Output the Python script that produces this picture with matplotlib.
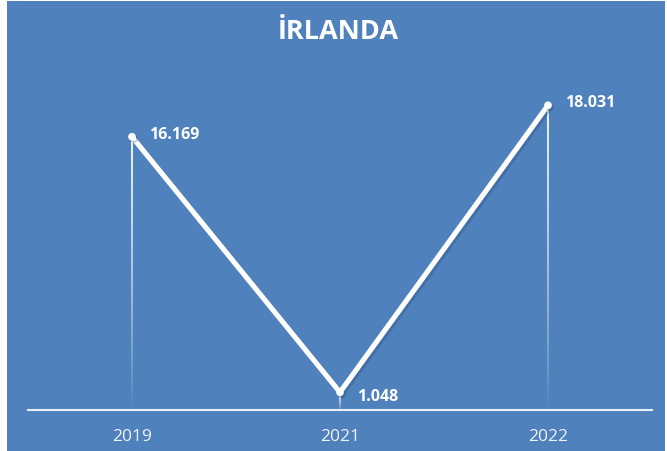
import matplotlib
matplotlib.use("Agg")
import matplotlib.pyplot as plt
import matplotlib.patheffects as pe
from matplotlib.collections import LineCollection
from matplotlib.patches import Rectangle
import numpy as np

title = "İRLANDA"
years = ["2019", "2021", "2022"]
values = [16.169, 1.048, 18.031]
labels = ["16.169", "1.048", "18.031"]

bg = "#4F81BD"
plt.rcParams['font.family'] = ['Open Sans', 'DejaVu Sans']

fig = plt.figure(figsize=(6.67, 4.52), dpi=100)
fig.patch.set_facecolor("white")
fig.patches.append(Rectangle((7/667, 0), (665-7)/667, 450/452, transform=fig.transFigure,
                             facecolor=bg, edgecolor="none", zorder=-5))

ax = fig.add_axes([28/667, 1 - 411/452, (652-28)/667, (411-73)/452])
ax.set_zorder(1)
ax.set_facecolor("none")
x = np.arange(len(years))
ax.set_xlim(-0.5, len(years) - 0.5)
ax.set_ylim(0, 20)

# fading drop lines
for xi, v in zip(x, values):
    n = 60
    ys = np.linspace(0, v, n + 1)
    segs = [[(xi, ys[i]), (xi, ys[i + 1])] for i in range(n)]
    alphas = np.clip(np.linspace(0.0, 1.0, n) ** 0.8, 0, 1)
    cols = [(1, 1, 1, a) for a in alphas]
    ax.add_collection(LineCollection(segs, colors=cols, linewidths=1.3, zorder=2))

ax.plot(x, values, color="white", lw=3.7, solid_capstyle="round", solid_joinstyle="miter",
        zorder=4, marker="o", markersize=4.5, markerfacecolor="white", markeredgecolor="white",
        path_effects=[pe.SimpleLineShadow(offset=(1.5, -1.5), shadow_color="#2A4E7E", alpha=0.35),
                      pe.Normal()])

offsets = [(12, 2), (12, -3), (12, 2)]
for xi, v, lab, off in zip(x, values, labels, offsets):
    ax.annotate(lab, (xi, v), xytext=off, textcoords="offset points", color="white",
                fontsize=11.5, fontweight="bold", ha="left", va="center", zorder=5)

for s in ["top", "right", "left"]:
    ax.spines[s].set_visible(False)
ax.spines["bottom"].set_color("#E8EEF6")
ax.spines["bottom"].set_linewidth(1.5)
ax.set_yticks([])
ax.set_xticks(x)
ax.set_xticklabels(years, color="#F2F2F2", fontsize=12.5)
ax.tick_params(axis="x", length=0, pad=13)

fig.text(338/667, 1 - 32/452, title, color="white", fontsize=19.5, fontweight="bold",
         ha="center", va="center")

fig.savefig("out.png", dpi=100, facecolor=fig.get_facecolor())
